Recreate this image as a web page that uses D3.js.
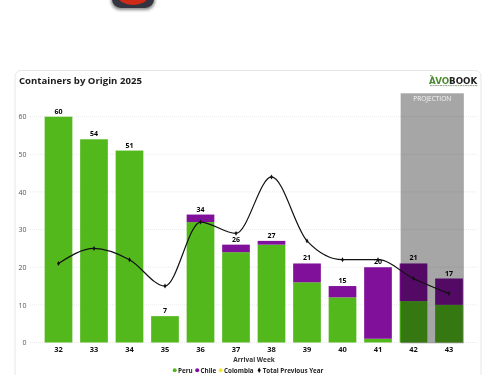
<!DOCTYPE html>
<html>
<head>
<meta charset="utf-8">
<script src="https://cdn.jsdelivr.net/npm/d3@7"></script>
<style>
    html, body { margin: 0; padding: 0; background: #fff; overflow: hidden; }
    svg { opacity: 0.999; }
    text { font-family: "Open Sans", "Noto Sans", sans-serif; }
</style>
</head>
<body>
<div id="chart"></div>
<script>
const weeks = ["32", "33", "34", "35", "36", "37", "38", "39", "40", "41", "42", "43"];
const peru = [60, 54, 51, 7, 32, 24, 26, 16, 12, 1, 11, 10];
const chile = [0, 0, 0, 0, 2, 2, 1, 5, 3, 19, 10, 7];
const colombia = [0, 0, 0, 0, 0, 0, 0, 0, 0, 0, 0, 0];
const previousYear = [21, 25, 22, 15, 32, 29, 44, 27, 22, 22, 17, 13];
const yTicks = [0, 10, 20, 30, 40, 50, 60];
const projectionWeeks = ["42", "43"];
const legendItems = [
    { name: "Peru", color: "#52b81c", x: 178 },
    { name: "Chile", color: "#80109a", x: 200.5 },
    { name: "Colombia", color: "#f5e63c", x: 224 },
    { name: "Total Previous Year", color: "#111", x: 262.7, line: true }
];

const width = 500, height = 375;

const svg = d3.select("#chart")
    .append("svg")
    .attr("width", width)
    .attr("height", height);

// app icon cut off at the top of the screenshot
const shadow = svg.append("filter").attr("id", "blur");
shadow.append("feGaussianBlur").attr("stdDeviation", 1.5);
svg.append("rect")
    .attr("x", 111).attr("y", -30).attr("width", 44).attr("height", 40).attr("rx", 9)
    .attr("fill", "#888").attr("filter", "url(#blur)");
svg.append("rect")
    .attr("x", 112).attr("y", -30).attr("width", 42).attr("height", 38).attr("rx", 9)
    .attr("fill", "#33343f");
svg.append("ellipse")
    .attr("cx", 133).attr("cy", -4).attr("rx", 15).attr("ry", 9)
    .attr("fill", "#cf2a17");

// card
svg.append("rect")
    .attr("x", 15).attr("y", 70.5).attr("width", 466).attr("height", 330).attr("rx", 6)
    .attr("fill", "#fff").attr("stroke", "#e6e6e6").attr("stroke-width", 1);

svg.append("text")
    .attr("x", 19).attr("y", 83.5)
    .attr("font-size", 9.6).attr("font-weight", 700).attr("fill", "#1c1c1c")
    .text("Containers by Origin 2025");

// logo, tagline under it is too small to read so it's just a thin rule
const logo = svg.append("text")
    .attr("x", 429).attr("y", 84)
    .attr("font-size", 8.7).attr("font-weight", 800)
    .style("font-family", "'DejaVu Sans', sans-serif");
logo.append("tspan").attr("fill", "#4a8a30").text("AVO");
logo.append("tspan").attr("fill", "#222").text("BOOK");
svg.append("line")
    .attr("x1", 430).attr("x2", 478).attr("y1", 85.6).attr("y2", 85.6)
    .attr("stroke", "#7d8f70").attr("stroke-width", 0.8).attr("stroke-dasharray", "2 0.5");
svg.append("line")
    .attr("x1", 430).attr("x2", 433).attr("y1", 75.5).attr("y2", 76.5)
    .attr("stroke", "#5a9a35").attr("stroke-width", 1);

// scales
const xScale = d3.scaleBand()
    .domain(weeks)
    .range([40.75, 466.75])
    .paddingInner(0.22)
    .paddingOuter(0.11);

const yScale = d3.scaleLinear()
    .domain([0, 60])
    .range([342.5, 116.7]);

// grid
svg.append("g")
    .selectAll("line")
    .data(yTicks)
    .join("line")
    .attr("x1", 30)
    .attr("x2", 478)
    .attr("y1", d => yScale(d))
    .attr("y2", d => yScale(d))
    .attr("stroke", "#e4e4e4")
    .attr("stroke-width", 0.8)
    .attr("stroke-dasharray", "1 1");

// y axis
const yAxisG = svg.append("g")
    .attr("transform", "translate(26.5,0)")
    .call(d3.axisLeft(yScale).tickValues(yTicks).tickSize(0).tickPadding(0));
yAxisG.select(".domain").remove();
yAxisG.selectAll("text")
    .attr("font-size", 7)
    .attr("fill", "#555")
    .style("font-family", "'Open Sans', sans-serif");

// x axis
const xAxisG = svg.append("g")
    .attr("transform", "translate(0,346.3)")
    .call(d3.axisBottom(xScale).tickSize(0).tickPadding(0));
xAxisG.select(".domain").remove();
xAxisG.selectAll("text")
    .attr("font-size", 7.5)
    .attr("font-weight", 700)
    .attr("fill", "#111")
    .style("font-family", "'Open Sans', sans-serif");

svg.append("text")
    .attr("x", 254).attr("y", 362.3)
    .attr("text-anchor", "middle")
    .attr("font-size", 6.5).attr("font-weight", 700).attr("fill", "#333")
    .text("Arrival Week");

// stacked bars
const rows = weeks.map((w, i) => ({ week: w, peru: peru[i], chile: chile[i], colombia: colombia[i] }));
const stack = d3.stack().keys(["peru", "chile", "colombia"]);
const colors = { peru: "#52b81c", chile: "#80109a", colombia: "#f5e63c" };

svg.append("g")
    .selectAll("g")
    .data(stack(rows))
    .join("g")
    .attr("fill", d => colors[d.key])
    .selectAll("rect")
    .data(d => d)
    .join("rect")
    .attr("x", d => xScale(d.data.week))
    .attr("y", d => yScale(d[1]))
    .attr("width", xScale.bandwidth())
    .attr("height", d => yScale(d[0]) - yScale(d[1]));

// projection band sits over the bars
const projLeft = xScale(projectionWeeks[0]) + 1;
const projRight = xScale(projectionWeeks[1]) + xScale.bandwidth() + 1;
svg.append("rect")
    .attr("x", projLeft)
    .attr("y", 93.3)
    .attr("width", projRight - projLeft)
    .attr("height", 250)
    .attr("fill", "#000")
    .attr("opacity", 0.35);
svg.append("text")
    .attr("x", (projLeft + projRight) / 2).attr("y", 101)
    .attr("text-anchor", "middle")
    .attr("font-size", 6.5).attr("fill", "#f6f6f6")
    .text("PROJECTION");

// total labels
svg.append("g")
    .selectAll("text")
    .data(rows)
    .join("text")
    .attr("x", d => xScale(d.week) + xScale.bandwidth() / 2)
    .attr("y", d => yScale(d.peru + d.chile + d.colombia) - 3)
    .attr("text-anchor", "middle")
    .attr("font-size", 7).attr("font-weight", 700).attr("fill", "#000")
    .text(d => d.peru + d.chile + d.colombia);

// previous year line
const line = d3.line()
    .x((d, i) => xScale(weeks[i]) + xScale.bandwidth() / 2)
    .y(d => yScale(d))
    .curve(d3.curveMonotoneX);

svg.append("path")
    .attr("fill", "none")
    .attr("stroke", "#111")
    .attr("stroke-width", 1.2)
    .attr("d", line(previousYear));

svg.append("g")
    .selectAll("path")
    .data(previousYear)
    .join("path")
    .attr("d", d3.symbol(d3.symbolDiamond, 7))
    .attr("transform", (d, i) => `translate(${xScale(weeks[i]) + xScale.bandwidth() / 2},${yScale(d)})`)
    .attr("fill", "#111");

// legend
const legend = svg.append("g");
legendItems.forEach(item => {
    if (item.line) {
        legend.append("path")
            .attr("d", d3.symbol(d3.symbolDiamond, 9))
            .attr("transform", `translate(${item.x - 3.5},370.3)`)
            .attr("fill", item.color);
    } else {
        legend.append("circle")
            .attr("cx", item.x - 3.3).attr("cy", 370.3).attr("r", 2)
            .attr("fill", item.color);
    }
    legend.append("text")
        .attr("x", item.x).attr("y", 372.8)
        .attr("font-size", 6.3).attr("font-weight", 700).attr("fill", "#222")
        .text(item.name);
});
</script>
</body>
</html>
